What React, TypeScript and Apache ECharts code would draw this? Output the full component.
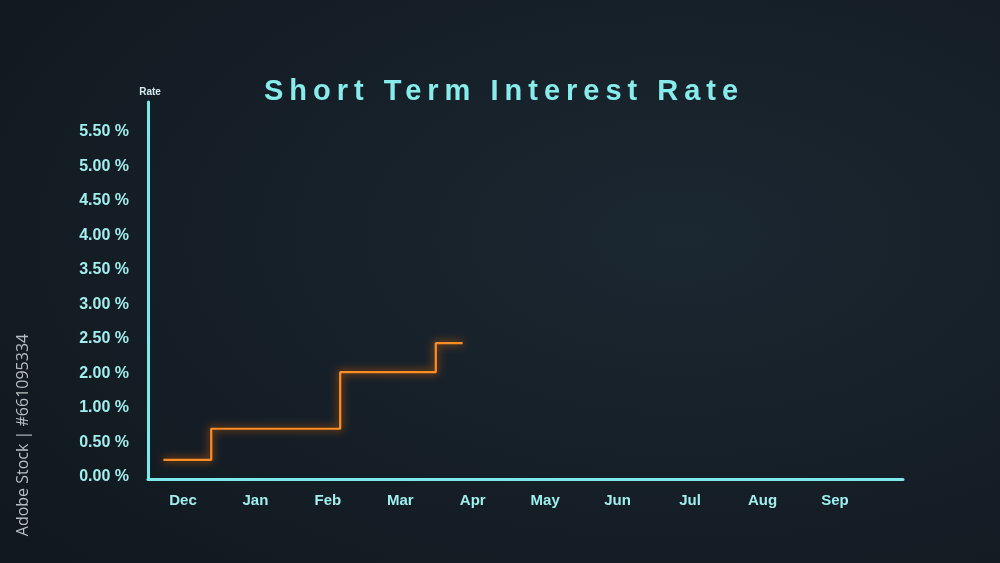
import React, { useEffect, useRef } from "react";
import * as echarts from "echarts";

// Month labels along the bottom axis
const MONTHS = ["Dec", "Jan", "Feb", "Mar", "Apr", "May", "Jun", "Jul", "Aug", "Sep"];
// Rate tick labels on the vertical axis (evenly spaced slots)
const RATE_TICKS = [0, 0.5, 1, 2, 2.5, 3, 3.5, 4, 4.5, 5, 5.5];
// Step points of the rate path: position in months (Dec = 0) and rate in %
const STEP_MONTH = [-0.27, 0.39, 2.17, 3.49, 3.86];
const STEP_RATE = [0.23, 0.68, 2.0, 2.42, 2.42];

const TITLE = "Short Term Interest Rate";
const AXIS_NAME = "Rate";
const CREDIT = "Adobe Stock | #661095334";

// The vertical axis places its tick labels in equal slots, so a rate is
// mapped onto slot units by interpolating between neighbouring ticks.
function rateToSlot(rate: number): number {
  for (let i = 0; i < RATE_TICKS.length - 1; i++) {
    const a = RATE_TICKS[i];
    const b = RATE_TICKS[i + 1];
    if (rate >= a && rate <= b) return i + (rate - a) / (b - a);
  }
  return RATE_TICKS.length - 1;
}

const CYAN = "#7ee9ec";
const LABEL = "#a0efef";

const axisLine = {
  show: true,
  onZero: false,
  lineStyle: { color: CYAN, width: 3, cap: "round" },
};

export default function App() {
  const ref = useRef<HTMLDivElement>(null);

  useEffect(() => {
    const el = ref.current!;
    const chart = echarts.init(el, null, { renderer: "svg" });

    const spaceTitle = () => {
      el.querySelectorAll("text").forEach((t) => {
        if (t.textContent === TITLE) {
          t.setAttribute("letter-spacing", "6");
          (t as SVGTextElement).style.letterSpacing = "6px";
        }
      });
    };

    chart.setOption({
      animation: false,
      backgroundColor: new echarts.graphic.RadialGradient(0.68, 0.42, 0.85, [
        { offset: 0, color: "#1b2731" },
        { offset: 1, color: "#11181f" },
      ]),
      grid: { left: 148, right: 97, top: 102, bottom: 84 },
      xAxis: {
        type: "value",
        min: -0.483,
        max: 9.94,
        axisLine,
        axisTick: { show: false },
        splitLine: { show: false },
        axisLabel: {
          customValues: MONTHS.map((_, i) => i),
          formatter: (v: number) => MONTHS[Math.round(v)] ?? "",
          color: LABEL,
          fontFamily: "Liberation Sans",
          fontWeight: "bold",
          fontSize: 15,
          margin: 13,
        },
      },
      yAxis: {
        type: "value",
        min: -0.096,
        max: 10.83,
        axisLine,
        axisTick: { show: false },
        splitLine: { show: false },
        axisLabel: {
          customValues: RATE_TICKS.map((_, i) => i),
          formatter: (v: number) => {
            const r = RATE_TICKS[Math.round(v)];
            return r === undefined ? "" : r.toFixed(2) + " %";
          },
          color: LABEL,
          fontFamily: "Liberation Sans",
          fontWeight: "bold",
          fontSize: 16,
          margin: 19,
        },
      },
      series: [
        {
          type: "line",
          step: "end",
          symbol: "none",
          data: STEP_MONTH.map((m, i) => [m, rateToSlot(STEP_RATE[i])]),
          lineStyle: {
            color: "#ff8d22",
            width: 2.2,
            shadowColor: "rgba(255,110,10,0.95)",
            shadowBlur: 8,
          },
        },
      ],
      graphic: [
        {
          type: "text",
          x: 504,
          y: 90,
          style: {
            text: TITLE,
            fill: "#86ecec",
            fontFamily: "Liberation Sans",
            fontWeight: "bold",
            fontSize: 29,
            align: "center",
            verticalAlign: "middle",
            shadowColor: "rgba(120,240,240,0.5)",
            shadowBlur: 4,
          },
        },
        {
          type: "text",
          x: 150,
          y: 91,
          style: {
            text: AXIS_NAME,
            fill: "#d5ebee",
            fontFamily: "Liberation Sans",
            fontWeight: "bold",
            fontSize: 10,
            align: "center",
            verticalAlign: "middle",
          },
        },
        {
          type: "text",
          x: 22,
          y: 435,
          rotation: Math.PI / 2,
          style: {
            text: CREDIT,
            fill: "#b8bfc2",
            fontFamily: "Open Sans",
            fontSize: 16,
            align: "center",
            verticalAlign: "middle",
          },
        },
      ],
    });

    chart.on("finished", spaceTitle);
    spaceTitle();
    const raf = requestAnimationFrame(spaceTitle);

    return () => {
      cancelAnimationFrame(raf);
      chart.dispose();
    };
  }, []);

  return (
    <div
      ref={ref}
      style={{ position: "fixed", left: 0, top: 0, width: 1000, height: 563 }}
    />
  );
}
